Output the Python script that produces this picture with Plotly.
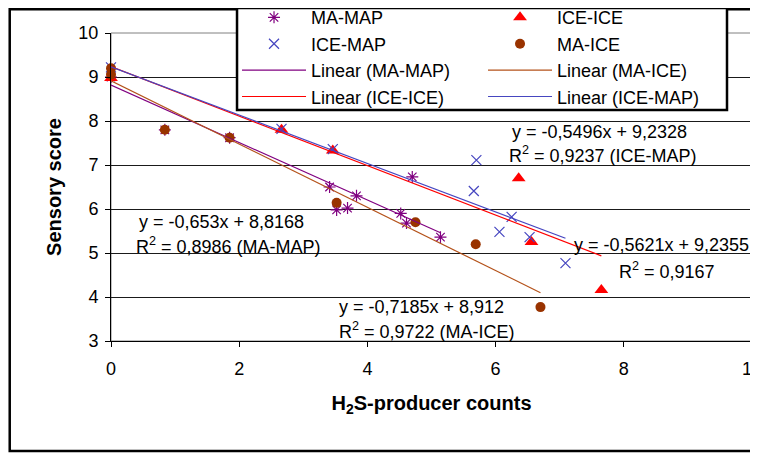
import plotly.graph_objects as go

# data
ma_map_x = [0, 0.84, 1.85, 3.41, 3.52, 3.69, 3.83, 4.52, 4.61, 4.70, 5.14]
ma_map_y = [9.0, 7.8, 7.62, 6.5, 5.98, 6.02, 6.3, 5.9, 5.68, 6.73, 5.36]

ice_ice_x = [0, 2.66, 3.46, 6.36, 6.56, 7.65]
ice_ice_y = [8.98, 7.8, 7.33, 6.7, 5.25, 4.16]

ice_map_x = [0, 2.66, 3.46, 5.70, 5.66, 6.25, 6.06, 6.53, 7.09]
ice_map_y = [9.22, 7.82, 7.36, 7.11, 6.41, 5.82, 5.48, 5.36, 4.77]

ma_ice_x = [0, 0, 0.84, 1.85, 3.52, 4.75, 5.69, 6.70]
ma_ice_y = [9.2, 9.05, 7.8, 7.62, 6.14, 5.7, 5.2, 3.77]

# trendline coefficients as printed on the chart
fits = {
    'MA-MAP': (-0.653, 8.8168),
    'MA-ICE': (-0.7185, 8.912),
    'ICE-ICE': (-0.5621, 9.2355),
    'ICE-MAP': (-0.5496, 9.2328),
}

c_purple = '#800080'
c_blue = '#4646c0'
c_red = '#ff0000'
c_brown = '#993300'

fig = go.Figure()

fig.add_trace(go.Scatter(x=ma_map_x, y=ma_map_y, mode='markers', name='MA-MAP',
                         marker=dict(symbol='asterisk-open', size=10, color=c_purple,
                                     line=dict(color=c_purple, width=1.2)), cliponaxis=False))
fig.add_trace(go.Scatter(x=ice_ice_x, y=ice_ice_y, mode='markers', name='ICE-ICE',
                         marker=dict(symbol='triangle-up', size=12, color=c_red), cliponaxis=False))
fig.add_trace(go.Scatter(x=ice_map_x, y=ice_map_y, mode='markers', name='ICE-MAP',
                         marker=dict(symbol='x-thin-open', size=10, color=c_blue,
                                     line=dict(color=c_blue, width=1.2)), cliponaxis=False))
fig.add_trace(go.Scatter(x=ma_ice_x, y=ma_ice_y, mode='markers', name='MA-ICE',
                         marker=dict(symbol='circle', size=10, color=c_brown), cliponaxis=False))


def trend(name, xs, color):
    a, b = fits[name]
    x0, x1 = 0, max(xs)
    return go.Scatter(x=[x0, x1], y=[a * x0 + b, a * x1 + b], mode='lines',
                      name='Linear (' + name + ')', line=dict(color=color, width=1.2),
                      cliponaxis=False)


fig.add_trace(trend('MA-MAP', ma_map_x, c_purple))
fig.add_trace(trend('MA-ICE', ma_ice_x, '#b4521a'))
fig.add_trace(trend('ICE-ICE', ice_ice_x, c_red))
fig.add_trace(trend('ICE-MAP', ice_map_x, c_blue))

txt = dict(family='Liberation Sans, Arial, sans-serif', size=18, color='black')
notes = [
    (6.22, 7.75, 'y = -0,5496x + 9,2328'),
    (6.18, 7.23, 'R<sup>2</sup> = 0,9237 (ICE-MAP)'),
    (0.41, 5.70, 'y = -0,653x + 8,8168'),
    (0.36, 5.16, 'R<sup>2</sup> = 0,8986 (MA-MAP)'),
    (7.19, 5.18, 'y = -0,5621x + 9,2355'),
    (7.89, 4.61, 'R<sup>2</sup> = 0,9167'),
    (3.53, 3.77, 'y = -0,7185x + 8,912'),
    (3.53, 3.23, 'R<sup>2</sup> = 0,9722 (MA-ICE)'),
]
for x, y, t in notes:
    fig.add_annotation(x=x, y=y, text=t, showarrow=False, xanchor='left',
                       yanchor='middle', font=txt)

# plot area border (grey), outer chart frame and legend box (black)
fig.add_shape(type='rect', xref='paper', yref='paper', x0=0, x1=1, y0=0, y1=1,
              line=dict(color='#808080', width=1), layer='below')
fig.add_shape(type='rect', xref='paper', yref='paper', x0=-0.158, x1=1.03,
              y0=-0.357, y1=1.077, line=dict(color='black', width=2.5))
fig.add_shape(type='rect', xref='paper', yref='paper', x0=0.1966, x1=0.961,
              y0=0.75, y1=1.081, line=dict(color='black', width=2.5),
              fillcolor='white', layer='above')

# page body has an 8px margin, so the figure is sized to fit the window
fig.update_layout(
    width=750, height=445,
    margin=dict(l=103, r=6, t=25, b=112, autoexpand=False),
    paper_bgcolor='white', plot_bgcolor='white',
    font=txt,
    legend=dict(orientation='h', x=0.1966, y=1.11, xanchor='left', yanchor='top',
                entrywidth=167, entrywidthmode='pixels', itemwidth=64,
                bgcolor='rgba(0,0,0,0)', borderwidth=0,
                font=dict(size=18), tracegroupgap=0),
    xaxis=dict(range=[0, 10], dtick=2, showgrid=False, zeroline=False, automargin=False,
               showline=True, linecolor='black', linewidth=1,
               ticks='outside', ticklen=5, tickcolor='black', ticklabelstandoff=6,
               ticklabeloverflow='allow',
               title=dict(text='<b>H<sub>2</sub>S-producer counts</b>',
                          font=dict(size=20), standoff=18)),
    yaxis=dict(range=[3, 10], dtick=1, showgrid=True, gridcolor='#1a1a1a', gridwidth=1,
               zeroline=False, showline=True, linecolor='black', linewidth=1, automargin=False,
               ticks='outside', ticklen=5, tickcolor='black', ticklabelstandoff=3,
               title=dict(text='<b>Sensory score</b>', font=dict(size=20), standoff=11)),
)

fig.write_html("out.html")
